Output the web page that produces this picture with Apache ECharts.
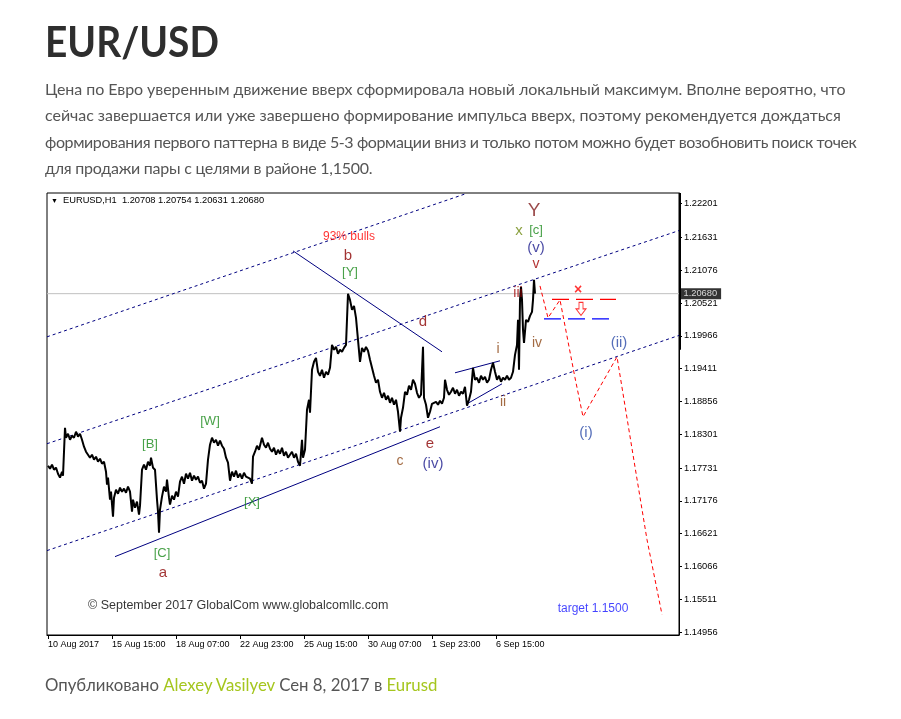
<!DOCTYPE html>
<html><head><meta charset="utf-8">
<script src="https://cdn.jsdelivr.net/npm/echarts@6/dist/echarts.min.js"></script>
<style>
html,body{margin:0;padding:0;background:#fff;width:901px;height:719px;overflow:hidden;}
#chart{position:absolute;left:0;top:0;width:901px;height:719px;}
.txt{position:absolute;left:45px;font-family:Lato,"Open Sans",sans-serif;white-space:nowrap;}
#title{top:20px;font-size:42px;line-height:42px;font-weight:bold;color:#2e2e2e;transform:scaleX(0.925);transform-origin:0 0;}
#para{top:76px;font-size:16px;line-height:26.3px;color:#555;}
#para div{white-space:nowrap;}
#foot{top:672px;font-size:16.8px;line-height:26px;color:#555;}
#foot span{color:#a5c61e;}
</style></head>
<body>
<div id="chart"></div>
<div id="title" class="txt">EUR/USD</div>
<div id="para" class="txt">
<div style="letter-spacing:-0.05px">Цена по Евро уверенным движение вверх сформировала новый локальный максимум. Вполне вероятно, что</div>
<div style="letter-spacing:-0.03px">сейчас завершается или уже завершено формирование импульса вверх, поэтому рекомендуется дождаться</div>
<div style="letter-spacing:-0.39px">формирования первого паттерна в виде 5-3 формации вниз и только потом можно будет возобновить поиск точек</div>
<div style="letter-spacing:-0.24px">для продажи пары с целями в районе 1,1500.</div>
</div>
<div id="foot" class="txt">Опубликовано <span>Alexey Vasilyev</span> Сен 8, 2017 в <span>Eurusd</span></div>
<script>
// ---- data ----
const xTickBar = [0, 64, 128, 192, 256, 320, 384, 448];
const xTickText = ['10 Aug 2017','15 Aug 15:00','18 Aug 07:00','22 Aug 23:00','25 Aug 15:00','30 Aug 07:00','1 Sep 23:00','6 Sep 15:00'];
const yTicks = [1.22201,1.21631,1.21076,1.20521,1.19966,1.19411,1.18856,1.18301,1.17731,1.17176,1.16621,1.16066,1.15511,1.14956];
const lastPrice = 1.20680;
const ohlcHeader = 'EURUSD,H1  1.20708 1.20754 1.20631 1.20680';

const priceBar = [0,2,4,6,8,10,12,14,15,17,18,20,22,24,26,28,30,32,34,36,38,40,42,44,46,48,50,52,54,56,58,59,60,62,63,65,66,68,70,72,74,76,78,80,82,84,85,87,89,91,92,94,96,98,100,102,103,105,107,109,110,111,112,114,116,118,119,121,122,124,126,128,130,132,134,136,138,140,142,144,146,148,150,152,154,156,158,160,162,164,166,168,170,172,174,176,178,180,182,184,186,188,190,192,194,196,198,200,202,204,205,207,209,211,213,214,216,218,220,222,224,226,228,230,232,234,236,238,240,242,244,246,248,250,252,254,255,257,259,261,262,264,266,268,270,272,274,276,278,280,282,284,286,288,290,292,294,296,298,300,302,304,306,308,310,312,314,316,318,320,322,324,326,328,330,332,334,336,338,340,342,344,346,348,350,352,353,355,357,359,361,363,365,367,369,371,373,375,376,378,380,382,384,386,388,390,392,394,396,397,399,401,403,405,407,409,411,413,415,417,419,421,423,425,427,429,431,433,435,437,439,441,443,445,447,449,451,453,455,457,459,461,463,465,467,469,470,471,472,473,474,475,476,478,480,482,484,485,486,487];
const priceClose = [1.17771,1.17721,1.17788,1.17704,1.17738,1.17636,1.17569,1.17670,1.17602,1.18413,1.18244,1.18312,1.18210,1.18278,1.18244,1.18346,1.18261,1.18312,1.18210,1.18092,1.18008,1.18041,1.17906,1.17957,1.17873,1.17923,1.17839,1.17889,1.17805,1.17839,1.17670,1.17450,1.17569,1.17197,1.17332,1.16910,1.17231,1.17366,1.17298,1.17400,1.17332,1.17383,1.17315,1.17417,1.17332,1.16994,1.17197,1.17062,1.17163,1.16944,1.17096,1.17704,1.17788,1.17704,1.17839,1.17771,1.17906,1.17738,1.17704,1.17197,1.16994,1.16640,1.17028,1.17248,1.17417,1.17332,1.17535,1.17231,1.17113,1.17265,1.17197,1.17332,1.17248,1.17501,1.17586,1.17467,1.17636,1.17552,1.17653,1.17518,1.17602,1.17535,1.17586,1.17484,1.17518,1.17383,1.17467,1.17873,1.18126,1.18244,1.18160,1.18210,1.18109,1.18194,1.18109,1.18058,1.17906,1.17822,1.17518,1.17670,1.17586,1.17687,1.17569,1.17636,1.17552,1.17653,1.17586,1.17619,1.17552,1.17467,1.17923,1.18008,1.18109,1.18041,1.18177,1.18244,1.18126,1.18075,1.18160,1.18058,1.18008,1.18075,1.17957,1.18041,1.17974,1.18075,1.17940,1.18008,1.17906,1.17957,1.18008,1.17906,1.17974,1.17839,1.17771,1.18210,1.17906,1.18041,1.18717,1.18886,1.18666,1.19393,1.19528,1.19595,1.19359,1.19291,1.19393,1.19258,1.19359,1.19308,1.19426,1.19815,1.19731,1.19781,1.19663,1.19731,1.19697,1.19764,1.19815,1.20676,1.20575,1.20406,1.20474,1.20271,1.19899,1.19528,1.19764,1.19697,1.19781,1.19714,1.19562,1.19426,1.19291,1.19173,1.19224,1.19021,1.18920,1.19004,1.18886,1.18954,1.18835,1.18920,1.18802,1.18886,1.18683,1.18346,1.18582,1.18751,1.19021,1.18970,1.19123,1.19055,1.19224,1.19156,1.19004,1.18920,1.18970,1.19781,1.18920,1.18802,1.18582,1.18683,1.18818,1.18785,1.18852,1.18802,1.18869,1.18818,1.18920,1.19224,1.19055,1.18970,1.19021,1.19089,1.18987,1.19055,1.18954,1.19021,1.18987,1.19106,1.18785,1.18886,1.19021,1.19426,1.19224,1.19258,1.19173,1.19291,1.19224,1.19275,1.19173,1.19224,1.19393,1.19511,1.19359,1.19224,1.19291,1.19190,1.19258,1.19224,1.19291,1.19224,1.19258,1.19359,1.19646,1.19815,1.20237,1.19393,1.20575,1.20795,1.20575,1.20068,1.19849,1.20237,1.20203,1.20305,1.20372,1.20575,1.20913,1.20680];

// analysis lines: [bar, price] end points
const channelTop = [[-1, 1.19950], [418, 1.22371]];
const channelMid = [[-1, 1.18143], [631, 1.21747]];
const channelLow = [[-1, 1.16336], [631, 1.19974]];
const trendSupport = [[67, 1.16234], [392, 1.18430]];
const trendBD = [[245, 1.21403], [394, 1.19697]];
const wedgeUpper = [[407, 1.19342], [452, 1.19545]];
const wedgeLower = [[419, 1.18818], [454, 1.19156]];
const forecastPath = [[492,1.20811],[500,1.20271],[512,1.20575],[527,1.19258],[535,1.18599],[569,1.19612],[585,1.17957],[599,1.16521],[614,1.15255]];
const stopLevel = [[504, 1.20583], [568, 1.20583]];
const entryLevel = [[496, 1.20254], [562, 1.20254]];
const lastPriceLine = [[-1, lastPrice], [631, lastPrice]];
const axisBlock = [[632.5, 1.22382], [632.5, 1.19731]];

// wave labels
const annText  = ['93% bulls','b','[Y]','Y','x','[c]','(v)','v','iii','iv','i','ii','(ii)','(i)','d','e','(iv)','c','[W]','[B]','[X]','[C]','a','target 1.1500','© September 2017 GlobalCom www.globalcomllc.com','×'];
const annBar   = [301,300,302,486,471,488,488,488,470,489,450,455,571,538,375,382,385,352,162,102,204,114,115,545,40,530];
const annPrice = [1.21639,1.21318,1.21031,1.22078,1.21740,1.21757,1.21453,1.21183,1.20693,1.19849,1.19747,1.18852,1.19849,1.18329,1.20203,1.18143,1.17805,1.17856,1.18514,1.18126,1.17146,1.16285,1.15964,1.15356,1.15407,1.20744];
const annKind  = ['bulls','minute','major','degY','olive','major','minor','minuette','minuette','sub','sub','sub','future','future','minute','minute','minor','sub','major','major','major','major','minute','target','copy','stop'];
const arrowPt = [[533, 1.20423]];

// ---- styles ----
const kindStyle = {
  bulls:{color:'#ff0000',fontSize:12},
  minute:{color:'#8b0000',fontSize:15},
  major:{color:'#1a8a1a',fontSize:13},
  degY:{color:'#7f1a1a',fontSize:19},
  olive:{color:'#6e8a10',fontSize:15},
  minor:{color:'#1a1a8c',fontSize:15},
  minuette:{color:'#a00000',fontSize:14},
  sub:{color:'#8b4513',fontSize:14},
  future:{color:'#2a4aa8',fontSize:15},
  target:{color:'#1414ff',fontSize:12},
  copy:{color:'#000',fontSize:12.5,align:'left'},
  stop:{color:'#ff0000',fontSize:14,fontWeight:'bold'}
};

const zip = (a,b)=>a.map((v,i)=>[v,b[i]]);
const seg = (pts,color,type,width,z)=>({type:'line',data:pts,symbol:'none',silent:true,animation:false,clip:true,z:z||3,lineStyle:{color,type,width}});

const chart = echarts.init(document.getElementById('chart'));
chart.setOption({
  animation:false,
  backgroundColor:'#fff',
  textStyle:{fontFamily:'Liberation Sans, Arial, sans-serif'},
  title:[
    {text:'▼',left:51,top:198,padding:0,textStyle:{fontSize:7,fontWeight:'normal',color:'#000'}},
    {text:ohlcHeader,left:63,top:196,padding:0,textStyle:{fontSize:9.3,fontWeight:'normal',color:'#000',fontFamily:'Liberation Sans'}}
  ],
  grid:{left:47,top:193,width:632,height:442,show:true,borderColor:'#000',borderWidth:1,backgroundColor:'#fff'},
  xAxis:{type:'value',min:-1,max:631,
    axisLine:{show:true,onZero:false,lineStyle:{color:'#000',width:1}},
    axisTick:{show:true,customValues:xTickBar,length:4,lineStyle:{color:'#000'}},
    axisLabel:{customValues:xTickBar,formatter:v=>xTickText[xTickBar.indexOf(v)],align:'left',fontSize:9,color:'#000',margin:5,fontFamily:'Liberation Sans'},
    splitLine:{show:false}},
  yAxis:{type:'value',position:'right',min:1.14909,max:1.22382,
    axisLine:{show:true,onZero:false,lineStyle:{color:'#000',width:1}},
    axisTick:{show:true,customValues:yTicks,length:3,lineStyle:{color:'#000'}},
    axisLabel:{customValues:yTicks,formatter:v=>v.toFixed(5),fontSize:9.3,color:'#000',margin:5,fontFamily:'Liberation Sans'},
    splitLine:{show:false}},
  series:[
    seg(lastPriceLine,'#c0c0c0','solid',1,1),
    seg(channelTop,'#000080',[3,3],1),
    seg(channelMid,'#000080',[3,3],1),
    seg(channelLow,'#000080',[3,3],1),
    seg(trendSupport,'#000080','solid',1),
    seg(trendBD,'#000080','solid',1),
    seg(wedgeUpper,'#000080','solid',1),
    seg(wedgeLower,'#000080','solid',1),
    seg(forecastPath,'#ff0000',[4,3],1),
    seg(stopLevel,'#ff0000',[17,7],1.3),
    seg(entryLevel,'#0000ff',[17,7],1.3),
    Object.assign(seg(axisBlock,'#000','solid',3,6),{clip:false}),
    {type:'line',data:zip(priceBar,priceClose),symbol:'none',silent:true,animation:false,z:5,
      lineStyle:{color:'#000',width:2}},
    {type:'scatter',silent:true,animation:false,z:10,clip:false,symbolSize:1,
      itemStyle:{color:'rgba(0,0,0,0)'},
      label:{show:true,position:'right',distance:1,formatter:lastPrice.toFixed(5),color:'#fff',backgroundColor:'#000',padding:[1,4,1,3],fontSize:9.3,fontFamily:'Liberation Sans'},
      data:[[631,lastPrice]]},
    {type:'scatter',silent:true,animation:false,z:8,symbolSize:1,symbol:'circle',
      itemStyle:{color:'rgba(0,0,0,0)'},
      label:{show:true,position:'inside',formatter:p=>p.name,fontFamily:'Liberation Sans'},
      data:annText.map((t,i)=>({name:t,value:[annBar[i],annPrice[i]],label:Object.assign({},kindStyle[annKind[i]])}))},
    {type:'scatter',silent:true,animation:false,z:8,
      symbol:'path://M3,0L7,0L7,6L10,6L5,12L0,6L3,6Z',symbolSize:[10,13],
      itemStyle:{color:'#fff',borderColor:'#ff0000',borderWidth:1},
      data:arrowPt}
  ]
});
</script>
</body></html>
